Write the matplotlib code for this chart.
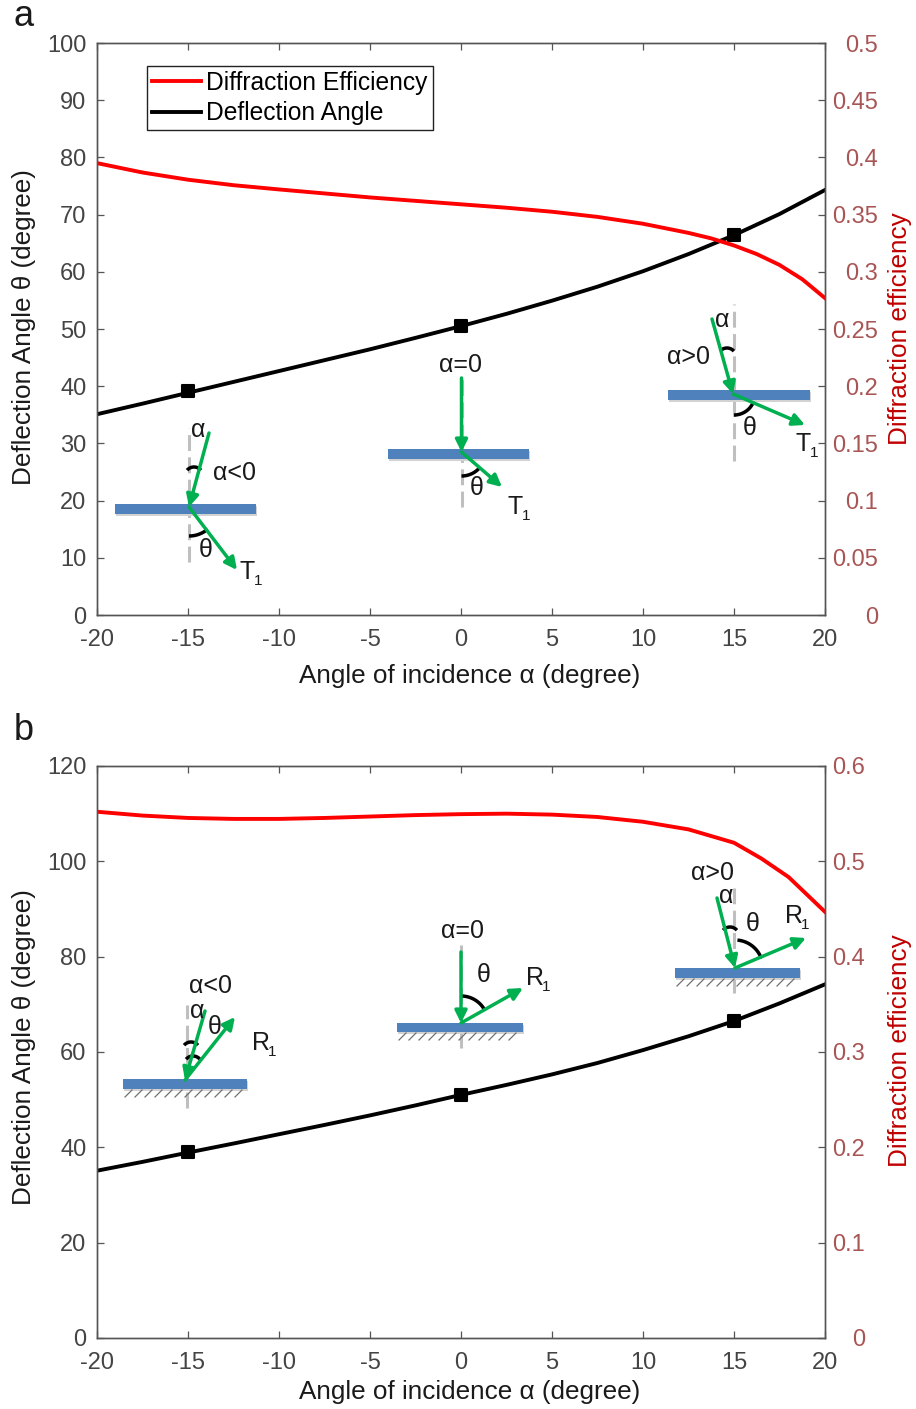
import numpy as np
import matplotlib
matplotlib.use("Agg")
import matplotlib.pyplot as plt
from matplotlib.markers import MarkerStyle
from matplotlib.patches import FancyArrowPatch, Rectangle

plt.rcParams["font.family"] = ["Liberation Sans", "DejaVu Sans"]
plt.rcParams["axes.unicode_minus"] = False

# panel a
angle_a = [-20, -17.5, -15, -12.5, -10, -7.5, -5, -2.5, 0, 2.5, 5, 7.5, 10, 12.5, 15, 17.5, 20]
deflection_a = [35.1, 36.95, 38.85, 40.75, 42.65, 44.55, 46.45, 48.45, 50.5, 52.65, 54.95, 57.4, 60.1, 63.1, 66.4,
                70.1, 74.3]
eff_angle_a = [-20, -17.5, -15, -12.5, -10, -7.5, -5, -2.5, 0, 2.5, 5, 7.5, 10, 12.5, 13.75, 15, 16.25, 17.5,
               18.75, 20]
efficiency_a = [0.395, 0.3868, 0.3805, 0.3757, 0.372, 0.3685, 0.365, 0.362, 0.359, 0.356, 0.3525, 0.348, 0.342,
                0.334, 0.3292, 0.323, 0.3155, 0.306, 0.2935, 0.277]
marker_x_a = [-15, 0, 15]
marker_y_a = [39.2, 50.5, 66.4]
left_ticks_a = [0, 10, 20, 30, 40, 50, 60, 70, 80, 90, 100]
right_ticks_a = [0, 0.05, 0.1, 0.15, 0.2, 0.25, 0.3, 0.35, 0.4, 0.45, 0.5]
right_labels_a = ["0", "0.05", "0.1", "0.15", "0.2", "0.25", "0.3", "0.35", "0.4", "0.45", "0.5"]

# panel b
angle_b = [-20, -17.5, -15, -12.5, -10, -7.5, -5, -2.5, 0, 2.5, 5, 7.5, 10, 12.5, 15, 17.5, 20]
deflection_b = [35.1, 36.95, 38.9, 40.8, 42.75, 44.7, 46.7, 48.8, 51.0, 53.1, 55.3, 57.7, 60.4, 63.3, 66.5, 70.2, 74.2]
eff_angle_b = [-20, -17.5, -15, -12.5, -10, -7.5, -5, -2.5, 0, 2.5, 5, 7.5, 10, 12.5, 15, 16.5, 18, 20]
efficiency_b = [0.552, 0.548, 0.5455, 0.5445, 0.5445, 0.5455, 0.547, 0.5485, 0.5495, 0.55, 0.549, 0.5465, 0.5415,
                0.5335, 0.5195, 0.503, 0.4835, 0.447]
marker_x_b = [-15, 0, 15]
marker_y_b = [39.0, 51.0, 66.5]
left_ticks_b = [0, 20, 40, 60, 80, 100, 120]
right_ticks_b = [0, 0.1, 0.2, 0.3, 0.4, 0.5, 0.6]
right_labels_b = ["0", "0.1", "0.2", "0.3", "0.4", "0.5", "0.6"]

x_ticks = [-20, -15, -10, -5, 0, 5, 10, 15, 20]

W, H = 916, 1409
TICK_FS = 17
LABEL_FS = 18.8
NOTE_FS = 18
GREEN = "#00b050"
GRAY = "#555555"
TICK_GRAY = "#444444"
INK = "#1a1a1a"
RIGHT_COLOR = "#a85555"
BLUE = "#4f81bd"
DASH = "#bfbfbf"
LW = 2.8


def panel(box, angle, deflection, eff_angle, efficiency, mx, my, left_ticks, right_ticks, right_labels,
          ymax, rmax, right_pad, xlabel_pad, ylabel_y, rlabel_y):
    left, top, right, bottom = box
    ax = fig.add_axes([left / W, 1 - bottom / H, (right - left) / W, (bottom - top) / H])
    ax2 = ax.twinx()

    line_b, = ax.plot(angle, deflection, color="black", lw=LW, label="Deflection Angle")
    ax.plot(mx, my, ls="none", marker=MarkerStyle("s", joinstyle="round"), color="black", ms=8.5, mew=1.5, zorder=5)
    line_r, = ax2.plot(eff_angle, efficiency, color="#ff0000", lw=LW, label="Diffraction Efficiency")

    ax.set_xlim(-20, 20)
    ax.set_ylim(0, ymax)
    ax2.set_ylim(0, rmax)
    ax.set_xticks(x_ticks)
    ax.set_yticks(left_ticks)
    ax2.set_yticks(right_ticks)
    ax2.set_yticklabels(right_labels)

    ax.tick_params(axis="x", direction="in", length=5, width=0.9, color=GRAY, top=True, labelsize=TICK_FS,
                   labelcolor=TICK_GRAY, pad=10)
    ax.tick_params(axis="y", direction="in", length=5, width=0.9, color=GRAY, labelsize=TICK_FS,
                   labelcolor=TICK_GRAY, pad=7.5)
    ax2.tick_params(axis="y", direction="in", length=5, width=0.9, color=GRAY, labelsize=TICK_FS,
                    labelcolor=RIGHT_COLOR, pad=right_pad)
    for lab in ax2.get_yticklabels():
        lab.set_ha("right")
    for a in (ax, ax2):
        for s in a.spines.values():
            s.set_color(GRAY)
            s.set_linewidth(1.0)

    ax.set_xlabel("Angle of incidence α (degree)", fontsize=LABEL_FS, color=INK, labelpad=xlabel_pad, x=0.512)
    ax.set_ylabel("Deflection Angle θ (degree)", fontsize=LABEL_FS, color=INK)
    ax.yaxis.set_label_coords((36 - left) / (right - left), ylabel_y)
    ax2.set_ylabel("Diffraction efficiency", fontsize=LABEL_FS, color="#c00000", rotation=90)
    ax2.yaxis.set_label_coords((888 - left) / (right - left), rlabel_y)
    return ax, ax2, line_r, line_b


fig = plt.figure(figsize=(W / 100, H / 100), dpi=100)

ax_a, ax2_a, red_a, black_a = panel((97, 43, 825, 615), angle_a, deflection_a, eff_angle_a, efficiency_a,
                                    marker_x_a, marker_y_a, left_ticks_a, right_ticks_a, right_labels_a,
                                    100, 0.5, 38, 9.5, 0.503, 0.5)
ax_b, ax2_b, red_b, black_b = panel((97, 766, 825, 1338), angle_b, deflection_b, eff_angle_b, efficiency_b,
                                    marker_x_b, marker_y_b, left_ticks_b, right_ticks_b, right_labels_b,
                                    120, 0.6, 29, 4.5, 0.509, 0.503)

leg = ax2_a.legend(handles=[red_a, black_a], loc="upper left", bbox_to_anchor=((147 - 97) / 728, (615 - 66) / 572),
                   fontsize=17.7, frameon=True, fancybox=False, framealpha=1, edgecolor="#222222", borderaxespad=0,
                   handlelength=2.0, handletextpad=0.22, labelspacing=0.26, borderpad=0.2)
leg.get_frame().set_linewidth(1.0)

# schematic layer, pixel coordinates of the figure
sk = fig.add_axes([0, 0, 1, 1], zorder=10)
sk.set_xlim(0, W)
sk.set_ylim(H, 0)
sk.axis("off")


def grating(x0, x1, y0, y1, hatch=False):
    sk.add_patch(Rectangle((x0 + 1, y0 + 2), x1 - x0, y1 - y0, color="#d2d2d2", lw=0, zorder=2))
    sk.add_patch(Rectangle((x0, y0), x1 - x0, y1 - y0, color=BLUE, lw=0, zorder=3))
    if hatch:
        for x in np.arange(x0 + 2, x1 - 6, 10):
            sk.plot([x, x + 7], [y1 + 8, y1 + 1], color="#707070", lw=0.9, zorder=2)


def normal(x, y0, y1):
    # drawn from the bottom end so the last dash ends where the reference does
    sk.plot([x, x], [y1, y0], color=DASH, lw=2.2, ls=(0, (5.2, 2.1)), zorder=1)


def arrow(p0, p1):
    sk.add_patch(FancyArrowPatch(p0, p1, arrowstyle="-|>", mutation_scale=18, lw=2.5, color=GREEN,
                                 shrinkA=0, shrinkB=0, zorder=5))


def arc(cx, cy, r, a0, a1):
    # angles in degrees from straight up, clockwise positive on screen
    t = np.radians(np.linspace(a0, a1, 30))
    sk.plot(cx + r * np.sin(t), cy - r * np.cos(t), color="black", lw=2.5, zorder=4, solid_capstyle="butt")


def label(x, y, s):
    sk.text(x, y, s, fontsize=NOTE_FS, ha="center", va="center", color=INK, zorder=6)


def order(x, y, s):
    sk.text(x, y, s, fontsize=NOTE_FS, ha="center", va="center", color=INK, zorder=6)
    sk.text(x + 11, y + 9, "1", fontsize=11, ha="center", va="center", color=INK, zorder=6)


sk.text(24, 16, "a", fontsize=26, ha="center", va="center", color=INK)
sk.text(24, 731, "b", fontsize=26, ha="center", va="center", color=INK)

# a, left
normal(189, 428, 562)
grating(115, 256, 504, 514)
arrow((209, 433), (189, 507))
arrow((189, 507), (237, 570))
arc(194, 476, 9, -50, 50)
arc(189, 507, 29, 180, 140)
label(198, 430, "α")
label(234, 473, "α<0")
label(206, 550, "θ")
order(247, 572, "T")

# a, middle
normal(461.5, 375, 507)
grating(388, 529, 449, 459)
arrow((461.5, 378), (461.5, 452))
arrow((461.5, 452), (502, 487))
arc(461.5, 452, 24, 180, 130)
label(461, 365, "α=0")
label(477, 488, "θ")
order(515, 507, "T")

# a, right
normal(734, 304, 461)
grating(668, 810, 390, 400)
arrow((712, 319), (733, 394))
arrow((733, 394), (805, 425))
arc(727, 357, 9, -50, 50)
arc(734, 394, 21, 180, 115)
label(722, 320, "α")
label(689, 357, "α>0")
label(750, 428, "θ")
order(803, 444, "T")

# b, left
normal(187, 1005, 1108)
grating(123, 247, 1079, 1089, hatch=True)
arrow((205, 1011), (185, 1080))
arrow((185, 1080), (235, 1017))
arc(191, 1051, 9, -50, 50)
arc(193, 1065, 9, -50, 50)
label(197, 1011, "α")
label(211, 986, "α<0")
label(215, 1027, "θ")
order(261, 1043, "R")

# b, middle
normal(461, 945, 1048)
grating(397, 523, 1023, 1032, hatch=True)
arrow((461, 952), (461, 1023))
arrow((461, 1023), (523, 988))
arc(461, 1023, 27, 0, 60)
label(462, 931, "α=0")
label(484, 975, "θ")
order(535, 978, "R")

# b, right
normal(734, 888, 993)
grating(675, 800, 968, 978, hatch=True)
arrow((717, 898), (735, 968))
arrow((735, 968), (806, 938))
arc(735, 968, 28, 5, 70)
arc(730, 936, 9, -50, 50)
label(712, 873, "α>0")
label(726, 896, "α")
label(753, 924, "θ")
order(794, 916, "R")

fig.savefig("out.png", dpi=100)
